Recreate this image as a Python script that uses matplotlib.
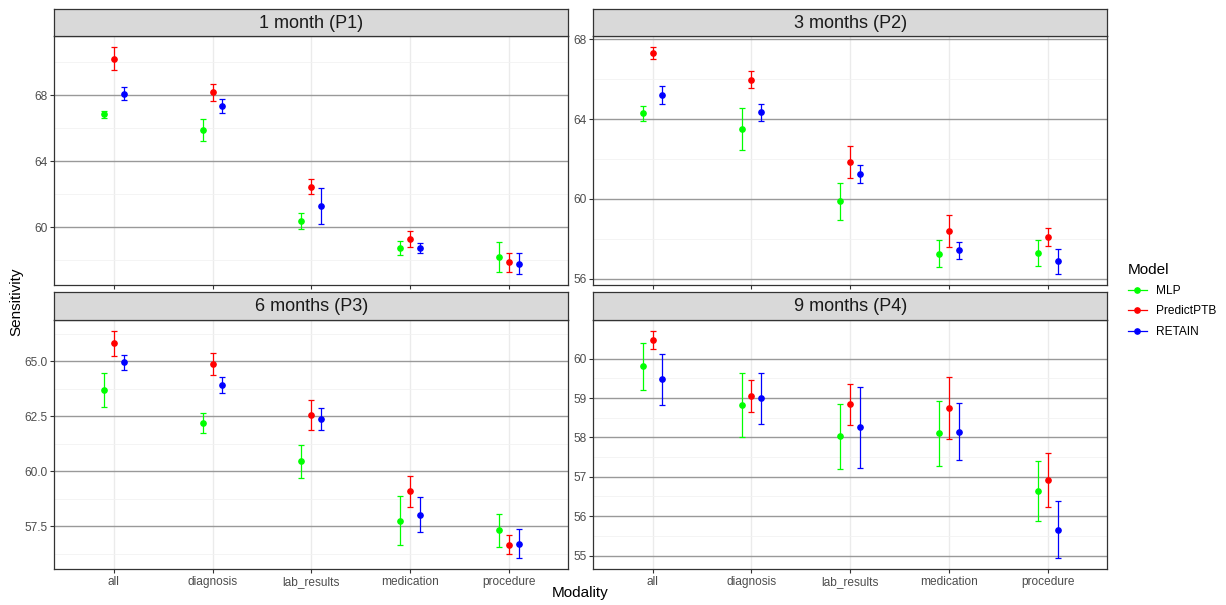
import matplotlib
matplotlib.use("Agg")
import matplotlib.pyplot as plt
from matplotlib.lines import Line2D
from matplotlib.ticker import FixedLocator, FormatStrFormatter
import numpy as np

plt.rcParams["font.family"] = ["Liberation Sans", "DejaVu Sans"]

modalities = ["all", "diagnosis", "lab_results", "medication", "procedure"]
models = ["MLP", "PredictPTB", "RETAIN"]
colors = {"MLP": "#00FF00", "PredictPTB": "#FF0000", "RETAIN": "#0000FF"}
panel_titles = ["1 month (P1)", "3 months (P2)", "6 months (P3)", "9 months (P4)"]

# mean, lower, upper per model per modality
p1_mean = {"MLP": [66.85, 65.90, 60.39, 58.77, 58.21],
           "PredictPTB": [70.24, 68.20, 62.48, 59.30, 57.89],
           "RETAIN": [68.12, 67.37, 61.29, 58.75, 57.81]}
p1_low = {"MLP": [66.61, 65.22, 59.88, 58.35, 57.30],
          "PredictPTB": [69.53, 67.66, 62.02, 58.82, 57.32],
          "RETAIN": [67.72, 66.95, 60.21, 58.45, 57.20]}
p1_high = {"MLP": [67.09, 66.59, 60.89, 59.21, 59.14],
           "PredictPTB": [70.92, 68.70, 62.92, 59.76, 58.43],
           "RETAIN": [68.52, 67.80, 62.38, 59.08, 58.45]}

p2_mean = {"MLP": [64.30, 63.50, 59.87, 57.25, 57.30],
           "PredictPTB": [67.32, 65.98, 61.85, 58.40, 58.10],
           "RETAIN": [65.20, 64.35, 61.27, 57.42, 56.88]}
p2_low = {"MLP": [63.93, 62.43, 58.92, 56.60, 56.65],
          "PredictPTB": [67.02, 65.55, 61.05, 57.60, 57.62],
          "RETAIN": [64.75, 63.92, 60.78, 57.00, 56.25]}
p2_high = {"MLP": [64.68, 64.57, 60.82, 57.92, 57.93],
           "PredictPTB": [67.60, 66.42, 62.67, 59.18, 58.55],
           "RETAIN": [65.65, 64.77, 61.72, 57.85, 57.50]}

p3_mean = {"MLP": [63.69, 62.20, 60.45, 57.76, 57.34],
           "PredictPTB": [65.81, 64.87, 62.54, 59.09, 56.66],
           "RETAIN": [64.96, 63.92, 62.39, 58.03, 56.72]}
p3_low = {"MLP": [62.90, 61.75, 59.68, 56.64, 56.58],
          "PredictPTB": [65.22, 64.36, 61.86, 58.38, 56.25],
          "RETAIN": [64.60, 63.57, 61.87, 57.26, 56.07]}
p3_high = {"MLP": [64.47, 62.63, 61.22, 58.87, 58.08],
           "PredictPTB": [66.37, 65.38, 63.23, 59.80, 57.10],
           "RETAIN": [65.28, 64.28, 62.89, 58.82, 57.37]}

p4_mean = {"MLP": [59.80, 58.83, 58.03, 58.11, 56.65],
           "PredictPTB": [60.47, 59.05, 58.85, 58.75, 56.92],
           "RETAIN": [59.47, 58.99, 58.26, 58.14, 55.66]}
p4_low = {"MLP": [59.21, 58.02, 57.20, 57.28, 55.89],
          "PredictPTB": [60.24, 58.65, 58.31, 57.95, 56.23],
          "RETAIN": [58.82, 58.34, 57.23, 57.42, 54.94]}
p4_high = {"MLP": [60.39, 59.64, 58.85, 58.93, 57.41],
           "PredictPTB": [60.70, 59.45, 59.36, 59.54, 57.61],
           "RETAIN": [60.12, 59.64, 59.29, 58.87, 56.39]}

major_ticks = [[60, 64, 68], [56, 60, 64, 68], [57.5, 60.0, 62.5, 65.0], [55, 56, 57, 58, 59, 60]]
minor_ticks = [[58, 62, 66, 70], [58, 62, 66], [56.25, 58.75, 61.25, 63.75, 66.25],
               [55.5, 56.5, 57.5, 58.5, 59.5]]
tick_fmt = ["%d", "%d", "%.1f", "%d"]

panels = [(p1_mean, p1_low, p1_high), (p2_mean, p2_low, p2_high),
          (p3_mean, p3_low, p3_high), (p4_mean, p4_low, p4_high)]

W, H = 1226, 605
fig = plt.figure(figsize=(W / 100, H / 100), dpi=100)

lefts = [54.5, 593.3]
rights = [568.0, 1107.3]
tops = [36.0, 319.7]
bottoms = [285.0, 569.3]
strip_h = 27.5

offsets = {"MLP": -0.1, "PredictPTB": 0.0, "RETAIN": 0.1}
x = np.arange(len(modalities))

for i, (mean, low, high) in enumerate(panels):
    r, c = divmod(i, 2)
    l, rr = lefts[c], rights[c]
    t, b = tops[r], bottoms[r]
    ax = fig.add_axes([l / W, 1 - b / H, (rr - l) / W, (b - t) / H])
    for m in models:
        mu = np.array(mean[m])
        lo = np.array(low[m])
        hi = np.array(high[m])
        ax.errorbar(x + offsets[m], mu, yerr=[mu - lo, hi - mu], fmt="o", color=colors[m],
                    ms=3.8, elinewidth=0.9, capsize=2.4, capthick=0.9, zorder=3)
    ax.set_xlim(-0.6, len(modalities) - 1 + 0.6)
    lo_all = min(min(v) for v in low.values())
    hi_all = max(max(v) for v in high.values())
    span = hi_all - lo_all
    ax.set_ylim(lo_all - 0.05 * span, hi_all + 0.05 * span)
    ax.yaxis.set_major_locator(FixedLocator(major_ticks[i]))
    ax.yaxis.set_minor_locator(FixedLocator(minor_ticks[i]))
    ax.yaxis.set_major_formatter(FormatStrFormatter(tick_fmt[i]))
    ax.set_xticks(x)
    if r == 1:
        ax.set_xticklabels(modalities)
    else:
        ax.set_xticklabels([])
        ax.tick_params(axis="x", length=0)
    ax.grid(axis="y", which="major", color="#999999", lw=1.0, zorder=0)
    ax.grid(axis="y", which="minor", color="#F2F2F2", lw=0.6, zorder=0)
    ax.grid(axis="x", which="major", color="#EBEBEB", lw=1.0, zorder=0)
    ax.set_axisbelow(True)
    ax.tick_params(axis="both", which="major", labelsize=8.6, labelcolor="#4D4D4D",
                   color="#333333", length=2.8, width=0.8, pad=2)
    ax.tick_params(axis="y", which="minor", length=0)
    for s in ax.spines.values():
        s.set_color("#333333")
        s.set_linewidth(0.9)
    # strip
    sax = fig.add_axes([l / W, 1 - t / H, (rr - l) / W, strip_h / H])
    sax.set_facecolor("#D9D9D9")
    sax.set_xticks([])
    sax.set_yticks([])
    for s in sax.spines.values():
        s.set_color("#333333")
        s.set_linewidth(0.9)
    sax.text(0.5, 0.47, panel_titles[i], ha="center", va="center", fontsize=13,
             color="#1A1A1A", transform=sax.transAxes)

fig.text(580 / W, 1 - 593 / H, "Modality", ha="center", va="center", fontsize=11)
fig.text(16 / W, 1 - 302 / H, "Sensitivity", ha="center", va="center", fontsize=11,
         rotation=90)

handles = [Line2D([0], [0], color=colors[m], marker="o", ms=3.8, lw=0.9) for m in models]
leg = fig.legend(handles, models, title="Model", loc="upper left",
                 bbox_to_anchor=(1117 / W, 1 - 252 / H), frameon=False, fontsize=8.6,
                 title_fontsize=11, handlelength=1.6, labelspacing=0.7,
                 alignment="left")

fig.savefig("out.png", dpi=100)
